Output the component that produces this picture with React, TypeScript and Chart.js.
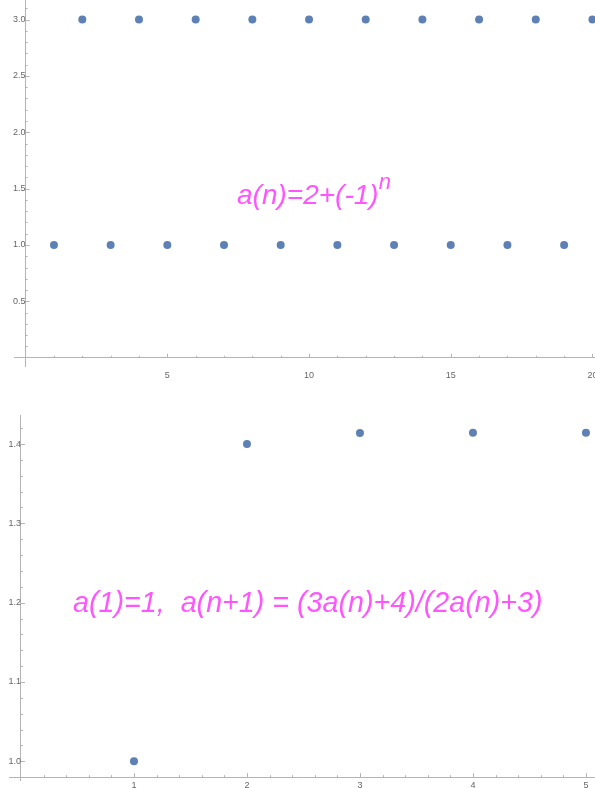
import React, { useEffect, useRef } from "react";
import { Chart, registerables } from "chart.js";

Chart.register(...registerables);

// ---- Data: a(n) = 2 + (-1)^n ----
const seq1N = [1, 2, 3, 4, 5, 6, 7, 8, 9, 10, 11, 12, 13, 14, 15, 16, 17, 18, 19, 20];
const seq1Values = [1, 3, 1, 3, 1, 3, 1, 3, 1, 3, 1, 3, 1, 3, 1, 3, 1, 3, 1, 3];
const seq1XTicks = [5, 10, 15, 20];
const seq1YTicks = [0.5, 1.0, 1.5, 2.0, 2.5, 3.0];

// ---- Data: a(1)=1, a(n+1) = (3a(n)+4)/(2a(n)+3) ----
const seq2N = [1, 2, 3, 4, 5];
const seq2Values = [1, 1.4, 1.41379, 1.4142, 1.41421];
const seq2XTicks = [1, 2, 3, 4, 5];
const seq2YTicks = [1.0, 1.1, 1.2, 1.3, 1.4];

const POINT_COLOR = "#5e81b5";
const AXIS_COLOR = "#b4b4b4";
const LABEL_COLOR = "#666666";
const TEXT_COLOR = "#ff55ff";

const inwardTicks = {
  id: "inwardTicks",
  afterDraw(chart: any, _args: any, opts: any) {
    const { ctx } = chart;
    const xs = chart.scales.x;
    const ys = chart.scales.y;
    const x0 = xs.getPixelForValue(opts.originX);
    const y0 = ys.getPixelForValue(opts.originY);
    ctx.save();
    ctx.strokeStyle = AXIS_COLOR;
    ctx.lineWidth = 1;
    const isMajor = (v: number, arr: number[]) => arr.some((m) => Math.abs(m - v) < 1e-6);
    const xCount = Math.floor((xs.max - opts.originX) / opts.xStep + 1e-6);
    for (let i = 1; i <= xCount; i++) {
      const v = opts.originX + i * opts.xStep;
      const px = Math.round(xs.getPixelForValue(v)) + 0.5;
      const len = isMajor(v, opts.xMajor) ? 4 : 2;
      ctx.beginPath();
      ctx.moveTo(px, y0);
      ctx.lineTo(px, y0 - len);
      ctx.stroke();
    }
    const yStart = Math.ceil((opts.originY + 1e-6) / opts.yStep);
    const yEnd = Math.floor(ys.max / opts.yStep + 1e-6);
    for (let k = yStart; k <= yEnd; k++) {
      const v = k * opts.yStep;
      if (Math.abs(v - opts.originY) < 1e-6) continue;
      const py = Math.round(ys.getPixelForValue(v)) + 0.5;
      const len = isMajor(v, opts.yMajor) ? 4 : 2;
      ctx.beginPath();
      ctx.moveTo(x0, py);
      ctx.lineTo(x0 + len, py);
      ctx.stroke();
    }
    ctx.restore();
  },
};

type SeqProps = {
  n: number[];
  values: number[];
  xTicks: number[];
  yTicks: number[];
  xMin: number;
  xMax: number;
  yMin: number;
  yMax: number;
  originY: number;
  xStep: number;
  yStep: number;
  width: number;
  height: number;
  padding: { left: number; right: number; top: number; bottom: number };
  xLabelPad: number;
  yLabelPad: number;
};

const zeroPad = (s: any) => {
  s.paddingLeft = 0;
  s.paddingRight = 0;
  s.paddingTop = 0;
  s.paddingBottom = 0;
};

function SeqChart(p: SeqProps) {
  const ref = useRef<HTMLCanvasElement | null>(null);
  useEffect(() => {
    if (!ref.current) return;
    const tickFont = { family: "'Liberation Sans', Arial, sans-serif", size: 9 };
    const chart = new Chart(ref.current, {
      type: "scatter",
      data: {
        datasets: [
          {
            data: p.n.map((x, i) => ({ x, y: p.values[i] })),
            backgroundColor: POINT_COLOR,
            borderColor: POINT_COLOR,
            pointRadius: 4,
            borderWidth: 0,
            showLine: false,
            clip: false,
          } as any,
        ],
      },
      options: {
        animation: false,
        responsive: false,
        maintainAspectRatio: false,
        devicePixelRatio: 1,
        events: [],
        layout: { padding: p.padding, autoPadding: false },
        plugins: {
          legend: { display: false },
          tooltip: { enabled: false },
          inwardTicks: {
            originX: 0,
            originY: p.originY,
            xStep: p.xStep,
            yStep: p.yStep,
            xMajor: p.xTicks,
            yMajor: p.yTicks,
          },
        } as any,
        scales: {
          x: {
            type: "linear",
            min: p.xMin,
            max: p.xMax,
            position: { y: p.originY } as any,
            afterBuildTicks: (s: any) => {
              s.ticks = p.xTicks.map((v) => ({ value: v }));
            },
            afterFit: (s: any) => {
              s.height = 0;
              zeroPad(s);
            },
            grid: { display: false, drawTicks: false },
            border: { display: true, color: AXIS_COLOR, width: 1 },
            ticks: {
              autoSkip: false,
              maxRotation: 0,
              padding: p.xLabelPad,
              color: LABEL_COLOR,
              font: tickFont,
              callback: (v: any) => String(v),
            },
          },
          y: {
            type: "linear",
            min: p.yMin,
            max: p.yMax,
            position: { x: 0 } as any,
            afterBuildTicks: (s: any) => {
              s.ticks = p.yTicks.map((v) => ({ value: v }));
            },
            afterFit: (s: any) => {
              s.width = 0;
              zeroPad(s);
            },
            grid: { display: false, drawTicks: false },
            border: { display: true, color: AXIS_COLOR, width: 1 },
            ticks: {
              autoSkip: false,
              padding: p.yLabelPad,
              color: LABEL_COLOR,
              font: tickFont,
              callback: (v: any) => Number(v).toFixed(1),
            },
          },
        },
      },
      plugins: [inwardTicks],
    });
    return () => chart.destroy();
  }, []);
  return <canvas ref={ref} width={p.width} height={p.height} style={{ display: "block" }} />;
}

const textStyle: React.CSSProperties = {
  position: "absolute",
  fontFamily: "'Liberation Sans', Arial, sans-serif",
  fontStyle: "italic",
  fontSize: "28px",
  lineHeight: "28px",
  color: TEXT_COLOR,
  whiteSpace: "pre",
};

export default function App() {
  return (
    <div style={{ position: "absolute", left: 0, top: 0, width: 595, height: 788, background: "#fff", overflow: "hidden" }}>
      <div style={{ position: "absolute", left: 0, top: 0 }}>
        <SeqChart
          n={seq1N}
          values={seq1Values}
          xTicks={seq1XTicks}
          yTicks={seq1YTicks}
          xMin={-0.41}
          xMax={20.09}
          yMin={-0.073}
          yMax={3.173}
          originY={0}
          xStep={1}
          yStep={0.1}
          width={595}
          height={390}
          padding={{ left: 14, right: 0, top: 0, bottom: 24 }}
          xLabelPad={12}
          yLabelPad={4}
        />
      </div>
      <div style={{ position: "absolute", left: 0, top: 390 }}>
        <SeqChart
          n={seq2N}
          values={seq2Values}
          xTicks={seq2XTicks}
          yTicks={seq2YTicks}
          xMin={-0.106}
          xMax={5.08}
          yMin={0.9764}
          yMax={1.4366}
          originY={0.98}
          xStep={0.2}
          yStep={0.02}
          width={595}
          height={398}
          padding={{ left: 9, right: 0, top: 25, bottom: 8 }}
          xLabelPad={3}
          yLabelPad={4}
        />
      </div>
      <div style={{ ...textStyle, left: 237, top: 181 }}>
        a(n)=2+(-1)
        <span style={{ fontSize: "22px", position: "relative", top: "-15px" }}>n</span>
      </div>
      <div style={{ ...textStyle, fontSize: "28.7px", left: 73, top: 588 }}>{"a(1)=1,  a(n+1) = (3a(n)+4)/(2a(n)+3)"}</div>
    </div>
  );
}
